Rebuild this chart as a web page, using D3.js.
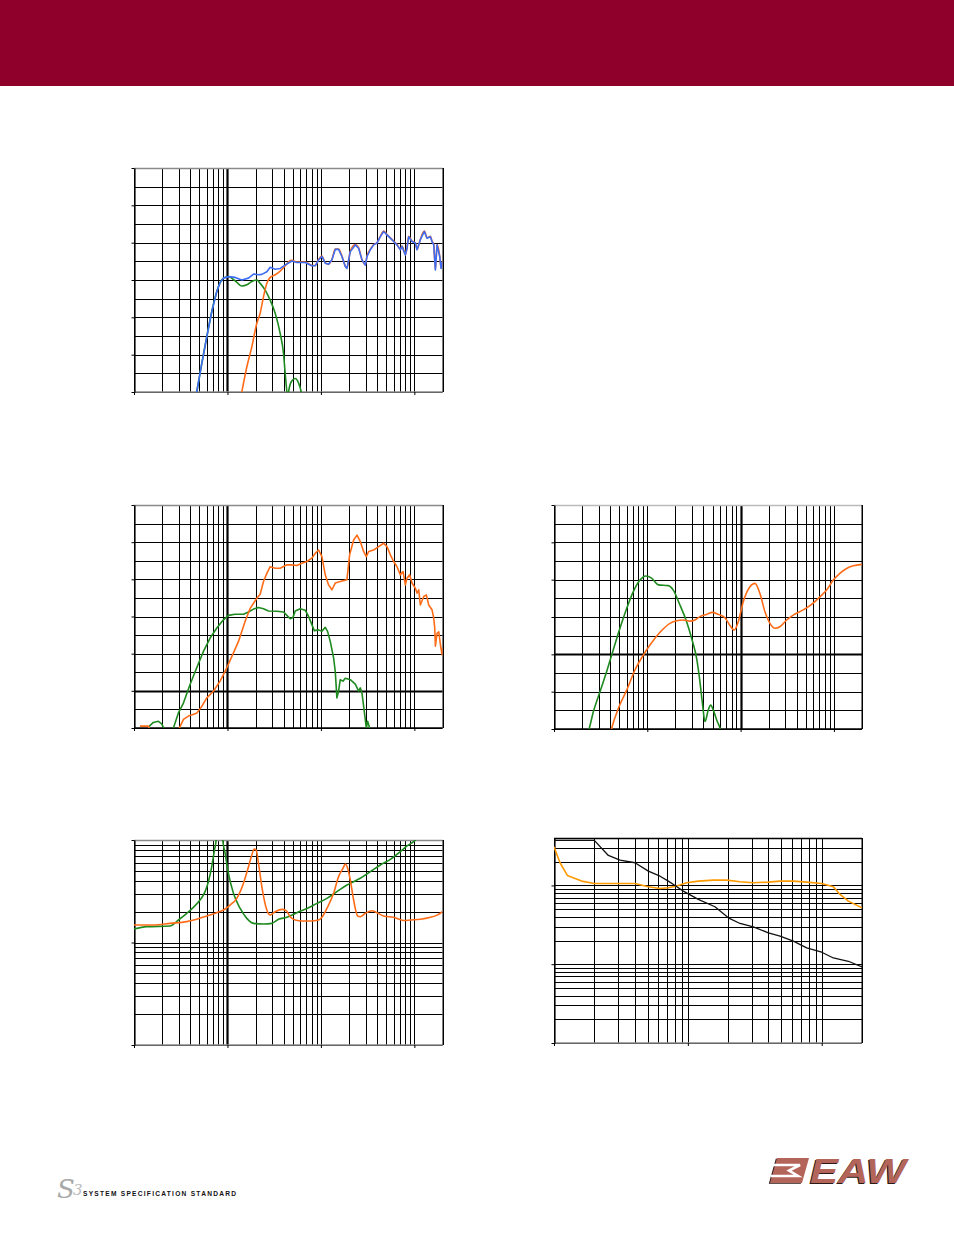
<!DOCTYPE html>
<html><head><meta charset="utf-8">
<script src="https://cdn.jsdelivr.net/npm/d3@7"></script>
<style>html,body{margin:0;padding:0;background:#fff}svg{display:block}</style>
</head><body><svg id="page" width="954" height="1235"></svg>
<script>
// ---------- DATA (frequency Hz, value) ----------
// Chart 1 : system response
const c1Blue = [[46.9,60],[53.1,67.6],[60.1,74.8],[67.9,81.5],[76.9,86.9],[83.4,89.3],[90.6,90.5],[102.5,90.9],[120.8,90.7],[142.4,90.0],[167.9,90.5],[189.9,91.6],[214.8,91.4],[233.3,91.5],[263.9,92.2],[286.4,93.4],[324.1,92.9],[366.4,93.1],[432.3,94.3],[488.8,95.1],[553.3,94.7],[679.1,94.7],[801.2,93.8],[869,93.8],[943.9,95.4],[1025,96.3],[1113,94.5],[1208,94.2],[1312,95.4],[1424,98.2],[1545,98.2],[1679,96.3],[1823,93.6],[1899,93.1],[2062,97.6],[2333,99.4],[2533,98.5],[2750,95.4],[2985,94.0],[3112,96.3],[3378,98.1],[3667,99.4],[3981,99.9],[4323,101.6],[4691,103.0],[5093,102.1],[5533,101.2],[6005,100.3],[6517,99.4],[7079,98.1],[7379,99.0],[8011,96.7],[8337,98.5],[8690,101.6],[9441,100.3],[10250,99.9],[10680,98.1],[11590,100.8],[12790,103.0],[13670,101.2],[14830,101.6],[15450,100.3],[16110,99.4],[16790,92.7],[17500,99.4],[18670,96.3],[19310,93.1],[20000,95.0]];
const c1Orange = [[142.4,60],[161.1,66.7],[182.3,72.1],[206.2,78.4],[223.9,81.1],[243.0,85.5],[263.9,89.1],[286.4,90.7],[324.1,91.4],[366.4,92.4],[414.9,93.8],[468.8,95.2],[488.8,95.3],[553.3,94.8],[679.1,94.8],[801.2,93.9],[869,93.9],[943.9,95.5],[1025,96.4],[1113,94.6],[1208,94.3],[1312,95.5],[1424,98.3],[1545,98.3],[1679,96.4],[1823,93.7],[1899,93.2],[2062,97.7],[2333,99.5],[2533,98.6],[2750,95.5],[2985,94.1],[3112,96.4],[3378,98.2],[3667,99.5],[3981,100.0],[4323,101.7],[4691,103.1],[5093,102.2],[5533,101.3],[6005,100.4],[6517,99.5],[7079,98.2],[7379,99.1],[8011,96.8],[8337,98.6],[8690,101.7],[9441,100.4],[10250,100.0],[10680,98.2],[11590,100.9],[12790,103.1],[13670,101.3],[14830,101.7],[15450,100.4],[16110,99.5],[16790,92.8],[17500,99.5],[18670,96.4],[19310,93.2],[20000,95.1]];
const c1Green = [[46.9,60],[53.1,67.6],[60.1,74.8],[67.9,81.5],[76.9,86.9],[83.4,89.3],[90.6,90.5],[102.5,90.9],[120.8,89.8],[142.4,88.4],[161.1,88.7],[182.3,89.6],[206.2,90.0],[223.9,89.1],[253.3,87.3],[286.4,84.6],[324.1,81.1],[366.4,75.7],[398.1,70.3],[414.9,64.9],[432.3,60],[441,57.5],[450.5,60],[488.8,63.0],[530.9,63.6],[576.5,62.4],[615.6,60],[640,57]];
// Chart 2 : LF / HF section response
const c2Orange = [[11.6,-9.5],[14.2,-9.5],[16,-12],[28,-12],[30.6,-10],[33.8,-7.7],[38.2,-6.8],[46.9,-6.0],[53.1,-4.2],[60.1,-1.9],[70.8,-0.1],[83.4,2.6],[98.4,6.2],[115.9,10.2],[131.2,13.3],[154.6,18.7],[175,22.2],[206.2,24.9],[223.9,26.0],[243,29.4],[263.9,31.6],[286.4,33.4],[324.1,33.0],[366.4,33.0],[432.3,33.9],[488.8,33.9],[553.3,33.7],[625.9,34.3],[707.9,34.8],[801.2,35.7],[869,37.0],[943.9,37.9],[1025,36.1],[1113,31.2],[1208,28.5],[1312,27.2],[1424,29.0],[1611,29.4],[1899,29.9],[2028,36.6],[2239,40.6],[2432,41.9],[2637,40.2],[2864,37.5],[3061,36.1],[3243,37.5],[3667,37.9],[4150,38.8],[4691,39.7],[5093,38.8],[5533,36.6],[6005,34.8],[6517,33.4],[7079,31.2],[7568,32.1],[8011,28.5],[8337,30.3],[8913,31.2],[9441,29.0],[10250,27.6],[10680,26.3],[11130,27.2],[11590,23.1],[12590,25.4],[13450,25.8],[14240,23.1],[15450,21.8],[16110,19.6],[16520,16.9],[16790,12.0],[17500,15.5],[18240,15.9],[19010,12.4],[19790,9.7],[20000,11.5]];
const c2Green = [[14.2,-9.8],[16.1,-8.5],[18.2,-8.2],[19.8,-8.9],[20.6,-9.8],[22,-12],[25,-12],[26.4,-10],[29.8,-6.0],[33.8,-3.3],[39.8,1.7],[46.9,6.2],[55.3,10.6],[65.2,14.2],[76.9,16.9],[90.6,19.1],[102.5,20.3],[120.8,20.6],[148.4,20.6],[167.9,21.2],[189.9,22.0],[214.8,22.4],[243,22.1],[274.9,21.5],[337.8,21.4],[398.1,21.2],[432.3,20.3],[468.8,19.4],[501.2,19.7],[530.9,21.5],[600.7,22.1],[679.1,21.7],[737.9,20.0],[801.2,17.8],[848.3,16.2],[943.9,16.4],[1025,16.0],[1113,17.1],[1178,16.0],[1259,13.3],[1368,8.8],[1424,5.2],[1483,-1.9],[1545,-0.1],[1611,3.0],[1722,2.6],[1823,3.4],[2062,3.0],[2333,1.8],[2533,-0.1],[2637,0.8],[2750,-0.6],[2911,-5.5],[3061,-10],[3162,-8.2],[3321,-10],[3500,-14]];
// Chart 3 : phase-like response
const c3Green = [[20,-25],[23.9,-19.8],[26.4,-15.4],[31.1,-10.0],[36.7,-4.6],[41.5,-0.2],[50.9,7.0],[60.1,12.3],[70.8,16.8],[83.4,19.9],[96.7,21.0],[111.2,20.4],[131.2,18.6],[167.9,18.4],[189.9,17.2],[223.9,13.2],[263.9,8.75],[298.5,4.3],[337.8,-1.1],[366.4,-7.3],[391.6,-13.6],[414.9,-18.0],[450.5,-14.9],[477.1,-13.6],[517.9,-15.4],[562.3,-18.0],[600.7,-19.8],[650,-25]];
const c3Orange = [[38,-24],[41.5,-19.8],[48.9,-14.5],[60.1,-9.6],[73.7,-4.2],[90.6,-0.2],[106.8,2.5],[136.8,5.9],[175,8.3],[206.2,9.0],[243,9.2],[286.4,8.9],[324.1,9.2],[366.4,10.1],[432.3,10.7],[501.2,11.25],[576.5,10.7],[679.1,9.8],[769.1,7.7],[855.5,6.5],[943.9,8.75],[1068,14.1],[1259,18.1],[1424,19.0],[1611,16.3],[1823,11.4],[2062,8.3],[2333,7.0],[2637,7.4],[3112,9.2],[3667,10.5],[4691,11.9],[5765,13.4],[7079,15.4],[8337,17.2],[9841,19.9],[11590,21.7],[13670,23.0],[16110,23.7],[20000,24.1]];
// Chart 4 : impedance (log)
const c4Green = [[10,13.54],[13.7,14.27],[24.3,14.49],[29.9,16.58],[36.7,19.26],[43.2,22.03],[50.9,25.98],[57.6,31.33],[62.5,39.2],[67.9,54.95],[72.6,79.8],[75.6,100],[80,300],[85,200],[89.1,100],[94.4,74.1],[102.5,47.3],[115.9,30.2],[136.8,21.5],[161.1,17.2],[189.9,15.38],[243,15.15],[298.5,15.38],[351.6,16.83],[432.3,17.6],[553.3,19.55],[707.9,21.5],[906.1,24.1],[1159,26.97],[1483,31.33],[1899,36.4],[2239,39.2],[2637,42.3],[3378,49.1],[4323,57.0],[5533,64.7],[7079,76.9],[8337,87.4],[10250,100],[11500,115]];
const c4Orange = [[10,14.82],[16.1,14.82],[24.3,15.38],[36.7,15.97],[46.9,16.83],[60.1,18.14],[76.9,19.55],[90.6,20.75],[106.8,23.2],[125.9,26.97],[148.4,37.8],[167.9,54.95],[182.3,71.4],[193.1,81.7],[202.8,79.8],[214.8,59.2],[233.3,35.1],[263.9,20.75],[286.4,18.55],[324.1,19.95],[381.9,21.06],[425.3,20.44],[468.8,17.86],[530.9,16.58],[625.9,16.2],[769.1,16.2],[943.9,16.58],[1025,17.6],[1159,21.5],[1368,30.2],[1545,43.9],[1722,52.9],[1823,58.3],[1931,52.9],[2062,40.7],[2239,25.98],[2472,18.14],[2637,17.86],[2985,19.26],[3516,20.44],[3981,19.55],[4691,18.14],[6005,17.6],[7691,16.4],[9061,16.58],[11590,16.83],[14830,17.6],[17500,18.5],[20000,19.95]];
// Chart 5 : beamwidth / directivity (log-log)
const c5Black = [[100,373],[200.1,373],[254.7,240],[311.4,210],[402.9,194],[506.6,152],[619.8,131],[714.9,113.5],[801.8,100],[924.9,84.7],[1197,66.4],[1594,53.6],[2007,38.8],[2454,32.9],[3084,29.8],[3995,25.0],[4885,22.7],[6141,19.6],[7726,16.1],[10000,14.2],[12220,12.0],[15820,10.9],[20000,9.25]];
const c5Orange = [[100,310],[110.9,194],[125.8,134],[160.9,113.5],[200.1,106],[311.4,106],[402.9,106],[506.6,96.2],[619.8,91.6],[714.9,93.4],[825.3,98.1],[979.5,108.1],[1197,113.5],[1549,116.9],[1950,116.9],[2454,111.3],[3084,108.1],[3995,110.2],[4885,113.5],[6141,113.5],[7726,110.2],[10000,106],[12220,96.2],[13710,76.9],[15820,63.2],[20000,52.0]];

const freqDomain = [10, 20000];
const freqDomain5 = [100, 20000];
const footerText = "SYSTEM SPECIFICATION STANDARD";

// ---------- DRAWING ----------
const svg = d3.select("#page");
svg.append("rect").attr("x",0).attr("y",0).attr("width",954).attr("height",86).attr("fill","#8f002a");

const ORANGE="#ff6c17", BLUE="#3e6cf2", GREEN="#1f8a1f", AMBER="#ff9a00";

function logValues(dom){
  const out=[];
  const e0=Math.floor(Math.log10(dom[0])), e1=Math.ceil(Math.log10(dom[1]));
  for(let e=e0;e<=e1;e++) for(let k=1;k<10;k++){
    const v=k*Math.pow(10,e);
    if(v>=dom[0]*0.999 && v<=dom[1]*1.001) out.push(v);
  }
  return out;
}
function decades(dom){ return logValues(dom).filter(v=>Math.abs(Math.log10(v)-Math.round(Math.log10(v)))<1e-9); }

let clipId=0;
function chart(cfg){
  const {x0,x1,y0,y1}=cfg;
  const g=svg.append("g");
  const x=d3.scaleLog().domain(cfg.xDomain).range([x0,x1]);
  const y=(cfg.yLog?d3.scaleLog():d3.scaleLinear()).domain(cfg.yDomain).range([y1,y0]);
  const px=v=>Math.round(v)+0.5;
  logValues(cfg.xDomain).forEach(v=>{
    const thick = cfg.thickX && Math.abs(v-cfg.thickX)<1e-6;
    g.append("line").attr("x1",px(x(v))).attr("x2",px(x(v))).attr("y1",y0).attr("y2",y1)
      .attr("stroke","#000").attr("stroke-width",thick?2.2:1);
  });
  const hv = cfg.yLog ? logValues(cfg.yDomain) : d3.range(cfg.yDomain[0], cfg.yDomain[1]+1e-6, cfg.yStep);
  hv.forEach(v=>{
    const thick = cfg.thickY!==undefined && Math.abs(v-cfg.thickY)<1e-6;
    g.append("line").attr("x1",x0).attr("x2",x1).attr("y1",px(y(v))).attr("y2",px(y(v)))
      .attr("stroke","#000").attr("stroke-width",thick?2.2:1);
  });
  g.append("line").attr("x1",x0).attr("x2",x1).attr("y1",y0+0.5).attr("y2",y0+0.5).attr("stroke",cfg.topColor||"#8a8a8a").attr("stroke-width",1.6);
  g.append("line").attr("x1",x0).attr("x2",x1).attr("y1",y1).attr("y2",y1).attr("stroke",cfg.bottomColor||"#000").attr("stroke-width",1.6);
  g.append("line").attr("x1",px(x1)-0.5).attr("x2",px(x1)-0.5).attr("y1",y0).attr("y2",y1).attr("stroke","#000").attr("stroke-width",1);
  const ax=d3.axisBottom(x).tickValues(decades(cfg.xDomain)).tickFormat("").tickSize(3).tickSizeOuter(0);
  const axG=g.append("g").attr("transform",`translate(0,${y1})`).call(ax);
  axG.select(".domain").remove();
  axG.selectAll("line").attr("stroke","#000");
  const yt = cfg.yLog ? decades(cfg.yDomain) : d3.range(cfg.yDomain[0], cfg.yDomain[1]+1e-6, cfg.yTick);
  const ay=d3.axisLeft(y).tickValues(yt).tickFormat("").tickSize(3).tickSizeOuter(0);
  const ayG=g.append("g").attr("transform",`translate(${x0+0.5},0)`).call(ay);
  ayG.select(".domain").attr("stroke","#000").attr("stroke-width",1.2);
  ayG.selectAll("line").attr("stroke","#000");
  const id="clip"+(clipId++);
  svg.append("clipPath").attr("id",id).append("rect").attr("x",x0).attr("y",y0).attr("width",x1-x0).attr("height",y1-y0);
  const lg=g.append("g").attr("clip-path",`url(#${id})`);
  cfg.series.forEach(s=>{
    const line=d3.line().x(d=>x(d[0])).y(d=>y(d[1])).curve(s.curve||d3.curveMonotoneX);
    lg.append("path").attr("d",line(s.data)).attr("fill","none").attr("stroke",s.color)
      .attr("stroke-width",s.width||1.6).attr("stroke-linejoin","round");
  });
}

chart({x0:134,x1:442.5,y0:168,y1:392,xDomain:freqDomain,yDomain:[60,120],yStep:5,yTick:10,thickX:100,bottomColor:"#8a8a8a",
  series:[{data:c1Green,color:GREEN},{data:c1Orange,color:ORANGE},{data:c1Blue,color:BLUE,curve:d3.curveLinear}]});
chart({x0:134,x1:442.5,y0:505,y1:728,xDomain:freqDomain,yDomain:[-10,50],yStep:5,yTick:10,thickX:100,thickY:0,
  series:[{data:c2Green,color:GREEN,curve:d3.curveLinear},{data:c2Orange,color:ORANGE,curve:d3.curveLinear}]});
chart({x0:554,x1:862,y0:505,y1:729,xDomain:freqDomain,yDomain:[-20,40],yStep:5,yTick:10,thickX:1000,thickY:0,topColor:"#bbb",
  series:[{data:c3Green,color:GREEN},{data:c3Orange,color:ORANGE}]});
chart({x0:134,x1:442.5,y0:840,y1:1045,xDomain:freqDomain,yLog:true,yDomain:[1,100],thickX:100,bottomColor:"#8a8a8a",
  series:[{data:c4Green,color:GREEN},{data:c4Orange,color:ORANGE}]});
chart({x0:554,x1:862,y0:838,y1:1043,xDomain:freqDomain5,yLog:true,yDomain:[1,400],topColor:"#000",bottomColor:"#8a8a8a",
  series:[{data:c5Orange,color:AMBER,curve:d3.curveLinear},{data:c5Black,color:"#111",curve:d3.curveLinear,width:1.3}]});

// ---------- FOOTER ----------
svg.append("text").attr("x",57).attr("y",1198).attr("font-family","DejaVu Serif, serif").attr("font-style","italic")
  .attr("font-size",26).attr("fill","#a9a9a9").text("S");
svg.append("text").attr("x",73).attr("y",1195).attr("font-family","DejaVu Serif, serif").attr("font-style","italic")
  .attr("font-size",15).attr("fill","#bcbcbc").text("3");
svg.append("text").attr("x",83).attr("y",1196).attr("font-family","Liberation Sans, Arial, sans-serif").attr("font-weight","bold")
  .attr("font-size",6.6).attr("fill","#111").attr("textLength",153).attr("lengthAdjust","spacing").text(footerText);

const eaw=svg.append("g");
const LOGO="#b4655a", SHADOW="#2a1a18";
const sym="M777,1158 L809,1158 L802,1183 L770,1183 Z";
eaw.append("path").attr("d",sym).attr("fill",SHADOW).attr("transform","translate(-1.2,0.8)");
eaw.append("path").attr("d",sym).attr("fill",LOGO);
eaw.append("polyline").attr("points","773,1165 800,1165 789,1170.5 798,1176 771,1176").attr("fill","none")
  .attr("stroke","#fff").attr("stroke-width",2.6).attr("stroke-linejoin","miter");
eaw.append("text").attr("x",808.8).attr("y",1183.8).attr("font-family","Liberation Sans, Arial, sans-serif").attr("font-weight","bold").attr("font-style","italic")
  .attr("font-size",35).attr("fill",SHADOW).attr("textLength",96).attr("lengthAdjust","spacingAndGlyphs").text("EAW");
eaw.append("text").attr("x",810).attr("y",1183).attr("font-family","Liberation Sans, Arial, sans-serif").attr("font-weight","bold").attr("font-style","italic")
  .attr("font-size",35).attr("fill",LOGO).attr("textLength",96).attr("lengthAdjust","spacingAndGlyphs").text("EAW");
</script></body></html>
